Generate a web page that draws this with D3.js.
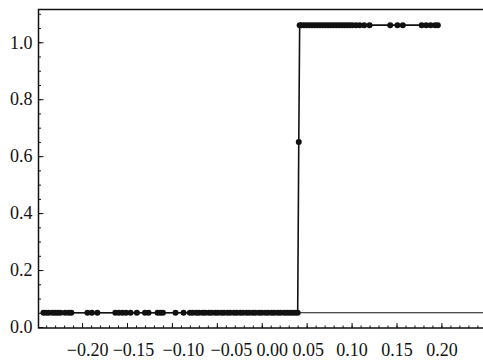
<!DOCTYPE html>
<html>
<head>
<meta charset="utf-8">
<script src="https://cdn.jsdelivr.net/npm/d3@7"></script>
<style>
  html, body { margin: 0; padding: 0; background: #fff; }
  svg { display: block; }
  svg text { font-family: 'Liberation Serif', 'Times New Roman', Times, serif; fill: #111; }
</style>
</head>
<body>
<svg id="chart" width="483" height="362"></svg>
<script>
// ---- data ----
const lowX = [-0.243, -0.240, -0.237, -0.233, -0.230, -0.227, -0.224,
  -0.219, -0.215, -0.212, -0.194, -0.189, -0.183,
  -0.163, -0.159, -0.155, -0.151, -0.146, -0.139, -0.130, -0.126,
  -0.116, -0.113, -0.110, -0.096, -0.087,
  -0.080, -0.077, -0.073, -0.070, -0.066, -0.063, -0.059, -0.056, -0.052,
  -0.049, -0.045, -0.042, -0.038, -0.035, -0.031, -0.028, -0.024, -0.021,
  -0.017, -0.014, -0.010, -0.007, -0.003, 0.000, 0.004, 0.007, 0.011,
  0.014, 0.018, 0.021, 0.025, 0.028, 0.031, 0.034, 0.037, 0.040];
const lowY = 0.05;
const stepX = [0.0412];
const stepY = [0.65];
const highX = [0.0422, 0.044, 0.047, 0.050, 0.053, 0.056, 0.059, 0.062, 0.065,
  0.068, 0.071, 0.074, 0.077, 0.080, 0.083, 0.086, 0.089, 0.092, 0.095,
  0.098, 0.101, 0.105, 0.109, 0.114, 0.120, 0.143, 0.151, 0.157,
  0.178, 0.183, 0.188, 0.193, 0.196];
const highY = 1.06;
const xTicks = [-0.20, -0.15, -0.10, -0.05, 0.00, 0.05, 0.10, 0.15, 0.20];
const xTickLabels = ["\u22120.20", "\u22120.15", "\u22120.10", "\u22120.05", "0.00", "0.05", "0.10", "0.15", "0.20"];
const yTicks = [0.0, 0.2, 0.4, 0.6, 0.8, 1.0];
const yTickLabels = ["0.0", "0.2", "0.4", "0.6", "0.8", "1.0"];
const xMinorStep = 0.01;
const yMinorStep = 0.05;

// ---- layout / style constants ----
const W = 483, H = 362;
const mLeft = 38.5, mRight = 485, mTop = 9.5, mBottom = 328;
const FONT = "'Liberation Serif', 'Times New Roman', Times, serif";
const xLabelShift = [5, 6, 11, 14, 10, 1, 0, 0, 0]; // label placement as typeset in the source
const svg = d3.select("#chart");
svg.append("rect").attr("width", W).attr("height", H).attr("fill", "#fff");

const x = d3.scaleLinear().domain([-0.2485, 0.2485]).range([mLeft, mRight]);
const y = d3.scaleLinear().domain([0, 1.115]).range([mBottom - 1, mTop]);

const points = [];
lowX.forEach(v => points.push([v, lowY]));
stepX.forEach((v, i) => points.push([v, stepY[i]]));
highX.forEach(v => points.push([v, highY]));

// minor ticks
const xMinor = d3.range(Math.round(-0.24 / xMinorStep), Math.round(0.24 / xMinorStep) + 1)
  .map(i => +(i * xMinorStep).toFixed(3));
const yMinor = d3.range(0, Math.round(1.1 / yMinorStep) + 1).map(i => +(i * yMinorStep).toFixed(3));

const gxMinor = svg.append("g").attr("transform", `translate(0,${mBottom})`)
  .call(d3.axisBottom(x).tickValues(xMinor).tickSize(-2.5).tickFormat(""));
const gx = svg.append("g").attr("transform", `translate(0,${mBottom})`)
  .call(d3.axisBottom(x).tickValues(xTicks).tickSize(-5).tickPadding(15)
    .tickFormat((d, i) => xTickLabels[i]));
const gyMinor = svg.append("g").attr("transform", `translate(${mLeft},0)`)
  .call(d3.axisLeft(y).tickValues(yMinor).tickSize(-2.5).tickFormat(""));
const gy = svg.append("g").attr("transform", `translate(${mLeft},0)`)
  .call(d3.axisLeft(y).tickValues(yTicks).tickSize(-5).tickPadding(6)
    .tickFormat((d, i) => yTickLabels[i]));

[gxMinor, gx, gyMinor, gy].forEach(g => {
  g.select(".domain").remove();
  g.attr("font-family", FONT).attr("font-size", 18);
  g.selectAll("line").attr("stroke", "#111").attr("stroke-width", 1);
});
gx.selectAll("text").attr("dx", (d, i) => xLabelShift[i]).attr("fill", "#111");
gy.selectAll("text").attr("fill", "#111");

// frame
svg.append("path")
  .attr("d", `M${mRight},${mTop}H${mLeft}V${mBottom}H${mRight}`)
  .attr("fill", "none").attr("stroke", "#111").attr("stroke-width", 1.5);

// thin baseline at lower level extending to the right
svg.append("line")
  .attr("x1", x(lowX[0])).attr("x2", x(0.2485))
  .attr("y1", y(lowY)).attr("y2", y(lowY))
  .attr("stroke", "#111").attr("stroke-width", 1.2);

// data line
svg.append("path")
  .datum(points)
  .attr("d", d3.line().x(d => x(d[0])).y(d => y(d[1])))
  .attr("fill", "none").attr("stroke", "#111").attr("stroke-width", 1.6);

// data points
svg.append("g").selectAll("circle").data(points).join("circle")
  .attr("cx", d => x(d[0])).attr("cy", d => y(d[1])).attr("r", 3)
  .attr("fill", "#111");
</script>
</body>
</html>
